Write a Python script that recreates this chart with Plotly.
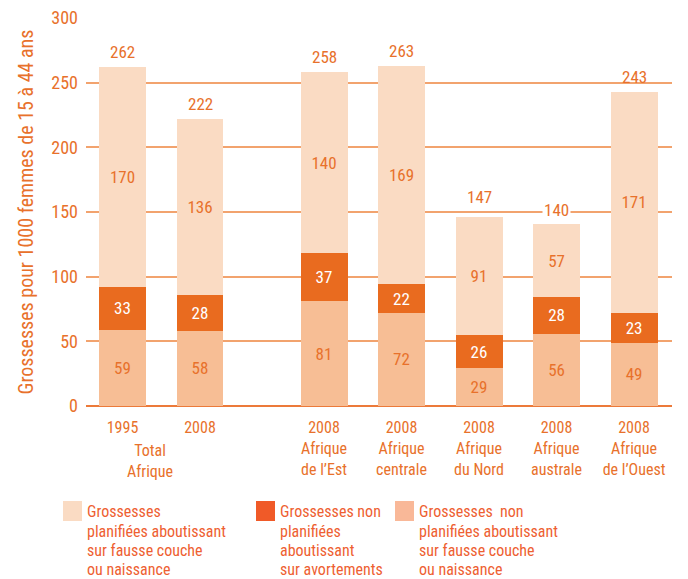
import plotly.graph_objects as go

# ---- data ----
years = ["1995", "2008", "2008", "2008", "2008", "2008", "2008"]
regions = ["", "", "Afrique<br>de l’Est", "Afrique<br>centrale", "Afrique<br>du Nord",
           "Afrique<br>australe", "Afrique<br>de l’Ouest"]
group_label = "Total<br>Afrique"
planned = [170, 136, 140, 169, 91, 57, 171]          # planifiées -> fausse couche / naissance
abortions = [33, 28, 37, 22, 26, 28, 23]             # non planifiées -> avortements
unplanned_birth = [59, 58, 81, 72, 29, 56, 49]       # non planifiées -> fausse couche / naissance
totals = [262, 222, 258, 263, 147, 140, 243]

legend_names = [
    ["Grossesses", "planifiées aboutissant", "sur fausse couche", "ou naissance"],
    ["Grossesses non", "planifiées", "aboutissant", "sur avortements"],
    ["Grossesses  non", "planifiées aboutissant", "sur fausse couche", "ou naissance"],
]
y_title = "Grossesses pour 1000 femmes de 15 à 44 ans"

# ---- styling ----
C_LIGHT = "#FADBC3"
C_DARK = "#E96B1F"
C_MID = "#F7BE95"
C_TEXT = "#E8712B"
C_LEG_TEXT = "#EE5F32"
C_GRID = "#F2A36E"
FONT = "Roboto Condensed, Liberation Sans Narrow, sans-serif"
NONE = "rgba(0,0,0,0)"
total_label_bg = [NONE, NONE, NONE, NONE, NONE, "white", NONE]
total_label_shift = [3, 3, 3, 3, 7, 3, 3]

L, R, T, B = 86, 672, 18, 406          # plot area in pixels
PW, PH = R - L, B - T

xpos = [0, 1, 2.6, 3.6, 4.6, 5.6, 6.6]
ticktext = [y if r == "" else f"{y}<br>{r}" for y, r in zip(years, regions)]
BW = 0.606

fig = go.Figure()
for vals, col, tcol in [(unplanned_birth, C_MID, C_TEXT),
                        (abortions, C_DARK, "white"),
                        (planned, C_LIGHT, C_TEXT)]:
    fig.add_bar(x=xpos, y=vals, marker_color=col, marker_line_width=0, width=BW,
                text=[str(v) for v in vals], textposition="inside",
                insidetextanchor="middle", textangle=0, hoverinfo="skip",
                textfont=dict(color=tcol, size=17, family=FONT), showlegend=False)

for x, t, bg, sh in zip(xpos, totals, total_label_bg, total_label_shift):
    fig.add_annotation(x=x, y=t, text=str(t), showarrow=False, yanchor="bottom",
                       yshift=sh, bgcolor=bg, borderpad=1,
                       font=dict(color=C_TEXT, size=17, family=FONT))

# group label under first pair
fig.add_annotation(x=0.36, y=0, yref="y", text=group_label,
                   showarrow=False, yanchor="top", yshift=-33,
                   font=dict(color=C_TEXT, size=16, family=FONT))

# custom legend
leg_colors = [C_LIGHT, "#F05A28", "#F9B898"]
leg_x0 = [63, 256, 395]
line_y = [511, 531, 550, 569]
for cx, col, lines in zip(leg_x0, leg_colors, legend_names):
    fig.add_shape(type="rect", xref="paper", yref="paper",
                  x0=(cx - L) / PW, x1=(cx + 19 - L) / PW,
                  y0=(B - 521) / PH, y1=(B - 501) / PH,
                  fillcolor=col, line_width=0)
    for ly, txt in zip(line_y, lines):
        fig.add_annotation(xref="paper", yref="paper", x=(cx + 22 - L) / PW,
                           y=(B - ly) / PH, xanchor="left", yanchor="middle",
                           align="left", text=txt, showarrow=False,
                           font=dict(color=C_LEG_TEXT, size=16, family=FONT))

fig.update_layout(
    barmode="stack",
    width=688, height=579,
    margin=dict(l=L, r=688 - R, t=T, b=579 - B, autoexpand=False),
    paper_bgcolor="white", plot_bgcolor="white",
    font=dict(family=FONT, color=C_TEXT, size=16),
    xaxis=dict(range=[-0.471, 7.09], tickvals=xpos, ticktext=ticktext,
               showgrid=False, zeroline=False, showline=False, ticks="",
               ticklabelstandoff=10, automargin=False,
               tickfont=dict(size=16, color=C_TEXT, family=FONT)),
    yaxis=dict(range=[0, 300], tickvals=[0, 50, 100, 150, 200, 250, 300],
               showgrid=True, gridcolor=C_GRID, gridwidth=1.5,
               zeroline=True, zerolinecolor="#EC7A3A", zerolinewidth=1.5,
               ticks="", ticklabelstandoff=7, automargin=False,
               tickfont=dict(size=18, color=C_TEXT, family=FONT),
               title=dict(text=y_title, standoff=12,
                          font=dict(size=20, color=C_TEXT, family=FONT))),
)

fig.write_html("out.html", config={"displayModeBar": False},
               post_script="document.body.style.margin='0';document.body.style.overflow='hidden';")
